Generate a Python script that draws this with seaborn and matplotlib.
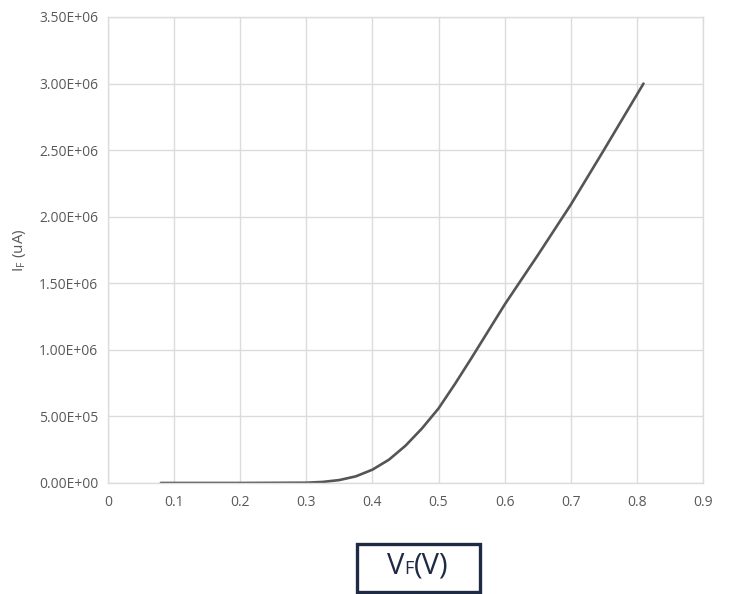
import numpy as np
import pandas as pd
import seaborn as sns
from matplotlib import pyplot as plt
from matplotlib.ticker import FuncFormatter
from matplotlib.patches import Rectangle
from matplotlib.offsetbox import TextArea, HPacker, AnchoredOffsetbox

# forward voltage (V) and forward current (uA)
vf = [0.08, 0.1, 0.2, 0.3, 0.325, 0.35, 0.375, 0.4, 0.425, 0.45, 0.475,
      0.5, 0.525, 0.55, 0.6, 0.65, 0.7, 0.75, 0.81]
i_f = [0, 0, 0, 2e3, 8e3, 2.2e4, 5.0e4, 1.0e5, 1.75e5, 2.8e5, 4.1e5,
       5.6e5, 7.45e5, 9.4e5, 1.34e6, 1.71e6, 2.09e6, 2.5e6, 3.0e6]

x_ticks = [0, 0.1, 0.2, 0.3, 0.4, 0.5, 0.6, 0.7, 0.8, 0.9]
y_ticks = [0, 5e5, 1e6, 1.5e6, 2e6, 2.5e6, 3e6, 3.5e6]

sns.set_theme(style="white")
plt.rcParams['font.family'] = ['Open Sans', 'DejaVu Sans']

df = pd.DataFrame({'vf': vf, 'if': i_f})

fig = plt.figure(figsize=(7.32, 5.94), dpi=100)
ax = fig.add_axes([0.1475, 0.1869, 0.8129, 0.7845])

sns.lineplot(data=df, x='vf', y='if', ax=ax, color='#555555', linewidth=1.9)

ax.set_xlim(0, 0.9)
ax.set_ylim(0, 3.5e6)
ax.set_xticks(x_ticks)
ax.set_yticks(y_ticks)
ax.xaxis.set_major_formatter(FuncFormatter(lambda v, p: '0' if v == 0 else '%g' % v))
ax.yaxis.set_major_formatter(FuncFormatter(lambda v, p: '{:.2E}'.format(v)))
ax.tick_params(axis='both', length=0, labelsize=10, labelcolor='#595959')
ax.tick_params(axis='y', pad=7)
ax.tick_params(axis='x', pad=9)
ax.grid(True, color='#dcdcdc', linewidth=1)
for s in ax.spines.values():
    s.set_color('#dcdcdc')
    s.set_linewidth(1)

ax.set_xlabel('')
ax.set_ylabel(r'I$_{\mathregular{F}}$ (uA)', fontsize=11, color='#595959')
ax.yaxis.set_label_coords(-0.134, 0.5)

# boxed axis title below the chart
navy = '#1f2a44'
fig.patches.append(Rectangle((357 / 732, 1 - 592 / 594), 123 / 732, 48 / 594,
                             transform=fig.transFigure, facecolor='white',
                             edgecolor=navy, linewidth=2.4))
parts = [TextArea('V', textprops=dict(size=21, color=navy)),
         TextArea('F', textprops=dict(size=13, color=navy)),
         TextArea('(V)', textprops=dict(size=21, color=navy))]
pack = HPacker(children=parts, align='baseline', pad=0, sep=0)
box = AnchoredOffsetbox(loc='center', child=pack, frameon=False, pad=0,
                        bbox_to_anchor=(418 / 732, 1 - 566 / 594),
                        bbox_transform=fig.transFigure, borderpad=0)
fig.add_artist(box)

plt.savefig('out.png', dpi=100)
